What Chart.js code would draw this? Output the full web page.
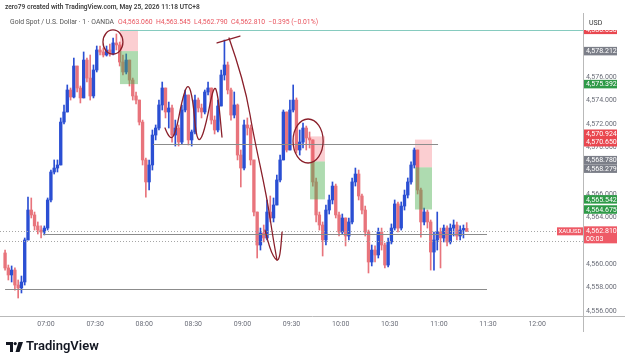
<!DOCTYPE html>
<html>
<head>
<meta charset="utf-8">
<script src="https://cdn.jsdelivr.net/npm/chart.js@4.4.1/dist/chart.umd.min.js"></script>
<style>
  html, body { margin: 0; padding: 0; background: #fff; }
  canvas { display: block; }
</style>
</head>
<body>
<canvas id="chart" width="625" height="362"></canvas>
<script>
// XAUUSD candles, 2-minute steps from 06:35 (time in minutes since midnight)
const startMinute = 395;
const stepMinutes = 2;
const firstOpen = 4560.96;

const closes = [
  4559.68, 4559.08, 4559.50, 4558.22, 4557.97, 4558.48, 4562.07, 4564.63, 4564.21, 4563.27,
  4562.92, 4562.75, 4563.09, 4565.49, 4567.88, 4568.22, 4568.48, 4572.15, 4573.01, 4574.89,
  4574.29, 4576.94, 4575.06, 4574.21, 4577.45, 4575.91, 4574.38, 4576.60, 4578.31, 4578.14,
  4577.88, 4578.31, 4577.97, 4578.91, 4578.74, 4577.28, 4576.43, 4577.45, 4575.74, 4574.38,
  4574.03, 4572.15, 4568.91, 4567.03, 4568.48, 4571.04, 4571.64, 4573.61, 4575.06, 4573.01,
  4573.35, 4571.04, 4571.64, 4570.44, 4573.18, 4574.46, 4570.62, 4571.30, 4574.03, 4573.35,
  4573.01, 4574.72, 4575.06, 4572.32, 4571.47, 4573.52, 4576.17, 4577.03, 4574.89, 4572.75,
  4573.61, 4569.33, 4568.22, 4571.90, 4571.64, 4568.91, 4564.46, 4561.64, 4562.67, 4562.24,
  4564.46, 4563.95, 4565.06, 4567.20, 4568.91, 4573.01, 4569.76, 4573.18, 4574.03, 4569.76,
  4570.44, 4571.64, 4570.79, 4570.62, 4567.03, 4564.21, 4563.35, 4562.07, 4564.63, 4565.49,
  4566.68, 4564.21, 4562.75, 4563.95, 4562.41, 4563.61, 4567.03, 4567.71, 4565.83, 4564.63,
  4562.75, 4560.19, 4561.21, 4560.79, 4562.75, 4561.64, 4559.93, 4561.90, 4563.09, 4565.15,
  4563.09, 4564.97, 4565.91, 4567.03, 4568.48, 4569.76, 4566.34, 4563.61, 4564.46, 4563.61,
  4561.04, 4562.07, 4562.75, 4562.24, 4563.09, 4561.90, 4563.09, 4563.35, 4562.41, 4562.92,
  4563.06, 4562.81
];
const highs = [
  4561.21, 4559.93, 4559.85, 4559.68, 4558.65, 4558.99, 4562.24, 4565.74, 4565.66, 4564.46,
  4563.61, 4563.27, 4563.27, 4565.66, 4568.05, 4568.91, 4568.91, 4572.50, 4573.61, 4575.32,
  4575.06, 4577.62, 4576.94, 4575.23, 4578.14, 4577.62, 4577.88, 4577.03, 4578.65, 4578.65,
  4578.48, 4578.65, 4578.82, 4579.33, 4579.68, 4578.99, 4577.88, 4577.97, 4577.45, 4575.91,
  4574.72, 4574.03, 4572.32, 4569.08, 4568.91, 4571.47, 4571.90, 4574.03, 4575.57, 4575.06,
  4573.86, 4573.61, 4572.32, 4571.90, 4573.61, 4574.89, 4574.46, 4571.47, 4574.46, 4574.21,
  4573.69, 4574.89, 4575.57, 4575.06, 4572.67, 4574.03, 4576.60, 4579.16, 4577.28, 4575.06,
  4574.72, 4573.69, 4569.76, 4572.32, 4572.50, 4571.90, 4568.91, 4564.46, 4563.09, 4563.35,
  4565.49, 4565.83, 4565.66, 4567.62, 4569.33, 4573.18, 4573.01, 4574.03, 4575.32, 4574.21,
  4571.47, 4572.07, 4571.81, 4571.30, 4570.62, 4567.37, 4564.46, 4563.61, 4565.06, 4565.91,
  4567.03, 4566.85, 4564.46, 4564.29, 4563.95, 4563.95, 4567.37, 4568.22, 4568.05, 4566.00,
  4564.97, 4562.92, 4561.64, 4561.56, 4563.09, 4563.09, 4561.81, 4562.24, 4563.44, 4565.49,
  4565.32, 4565.32, 4566.34, 4567.37, 4568.74, 4569.93, 4569.76, 4566.51, 4564.80, 4564.63,
  4563.78, 4562.75, 4564.46, 4563.09, 4563.35, 4563.27, 4563.44, 4563.78, 4563.61, 4563.27,
  4563.35, 4563.55
];
const lows = [
  4559.50, 4558.65, 4558.48, 4557.79, 4557.11, 4557.54, 4558.22, 4562.07, 4563.95, 4562.92,
  4562.58, 4562.24, 4562.50, 4562.92, 4565.32, 4567.71, 4567.88, 4568.48, 4571.98, 4573.18,
  4574.03, 4574.21, 4574.72, 4573.78, 4574.21, 4575.57, 4574.03, 4574.21, 4576.43, 4577.88,
  4577.71, 4577.79, 4577.79, 4577.88, 4578.31, 4576.94, 4576.17, 4576.26, 4575.23, 4574.03,
  4573.69, 4571.90, 4568.48, 4565.74, 4566.34, 4568.05, 4570.62, 4571.47, 4573.18, 4572.50,
  4571.64, 4570.44, 4570.10, 4570.10, 4570.27, 4573.01, 4570.19, 4570.10, 4571.13, 4573.01,
  4572.50, 4572.84, 4574.46, 4571.98, 4571.13, 4571.30, 4573.52, 4575.74, 4574.55, 4572.32,
  4572.50, 4568.91, 4566.60, 4568.05, 4571.04, 4568.48, 4564.12, 4560.53, 4561.21, 4561.90,
  4562.07, 4563.61, 4563.61, 4565.06, 4567.03, 4568.91, 4569.59, 4569.76, 4573.01, 4569.50,
  4569.33, 4569.93, 4569.76, 4569.93, 4566.68, 4563.61, 4562.92, 4560.70, 4561.64, 4564.29,
  4565.15, 4563.95, 4562.41, 4562.58, 4561.56, 4562.07, 4563.44, 4566.68, 4565.49, 4564.29,
  4562.41, 4559.25, 4559.85, 4560.19, 4560.53, 4561.21, 4559.68, 4559.76, 4561.73, 4562.92,
  4562.75, 4562.92, 4564.63, 4565.66, 4566.85, 4568.22, 4566.00, 4562.32, 4563.35, 4563.09,
  4559.50, 4559.50, 4561.21, 4559.68, 4561.90, 4561.56, 4561.73, 4562.41, 4562.07, 4562.07,
  4562.24, 4562.79
];

const timeTicks = [420, 450, 480, 510, 540, 570, 600, 630, 660, 690, 720];
const priceTicks = [4556, 4558, 4560, 4564, 4566, 4570, 4572, 4574, 4576];

// position tools: start/end minute, stop, entry, target
const boxStart = [465.2, 581.3, 645.4];
const boxEnd = [476.2, 590.4, 655.8];
const boxStop = [4580.03, 4570.924, 4570.650];
const boxEntry = [4578.212, 4568.780, 4568.279];
const boxTarget = [4575.392, 4565.542, 4564.675];

// horizontal levels
const levelPrice = [4570.27, 4562.55, 4557.85];
const levelFrom = [485.4, 418.2, 395.0];
const levelTo = [659.5, 689.4, 689.4];
const lastPrice = 4562.81;
const lowerDotted = 4561.98;
const topRay = { from: 465.2, price: 4580.03 };

// hand drawn marks (minute, price)
const waveMark = [[492.7, 4571.64], [495.8, 4570.53], [499.4, 4571.30], [503.1, 4574.03], [506.8, 4575.57],
  [509.8, 4574.03], [511.6, 4571.04], [514.1, 4570.44], [517.7, 4571.90], [522.6, 4575.40],
  [525.1, 4574.46], [527.5, 4570.87]];
const capMark = [[524.5, 4578.91], [538.5, 4579.50]];
const dropMark = [[531.8, 4579.33], [536.1, 4577.62], [542.8, 4574.29], [546.4, 4571.30],
  [555.0, 4565.66], [558.7, 4562.24], [561.1, 4560.36]];
const hookMark = [[553.8, 4562.92], [556.8, 4561.21], [561.1, 4560.19], [563.0, 4560.70], [564.2, 4562.75]];
const circleMarks = [
  { t: 460.9, p: 4578.99, rt: 6.1, rp: 1.03 },
  { t: 580.1, p: 4570.53, rt: 9.2, rp: 1.88 }
];

const UP = '#2b4fd3';
const DOWN = '#e8747c';
const RED = '#e9474f';
const GREEN = '#2f9a48';
const GRAY = '#7b7e88';
const INK = '#8a1f2a';
const FONT = "Roboto, 'Liberation Sans', sans-serif";

const times = closes.map((_, i) => startMinute + i * stepMinutes);
const opens = closes.map((_, i) => i === 0 ? firstOpen : closes[i - 1]);
const bodyData = times.map((t, i) => ({ x: t, y: [opens[i], closes[i]] }));
const wickData = times.map((t, i) => ({
  x: t,
  y: [Math.min(lows[i], opens[i], closes[i]), Math.max(highs[i], opens[i], closes[i])]
}));
const candleColor = c => closes[c.dataIndex] >= opens[c.dataIndex] ? UP : DOWN;

const fmt = v => v.toLocaleString('en-US', { minimumFractionDigits: 3, maximumFractionDigits: 3 });
const hhmm = m => String(Math.floor(m / 60)).padStart(2, '0') + ':' + String(m % 60).padStart(2, '0');

function smooth(ctx, pts) {
  ctx.beginPath();
  ctx.moveTo(pts[0][0], pts[0][1]);
  for (let i = 1; i < pts.length - 1; i++) {
    const mx = (pts[i][0] + pts[i + 1][0]) / 2;
    const my = (pts[i][1] + pts[i + 1][1]) / 2;
    ctx.quadraticCurveTo(pts[i][0], pts[i][1], mx, my);
  }
  const last = pts[pts.length - 1];
  ctx.lineTo(last[0], last[1]);
  ctx.stroke();
}

const drawings = {
  id: 'drawings',
  afterDatasetsDraw(chart) {
    const { ctx, chartArea: a, scales: { x, y } } = chart;
    const X = t => x.getPixelForValue(t);
    const Y = p => y.getPixelForValue(p);
    ctx.save();
    ctx.beginPath();
    ctx.rect(a.left, a.top, a.right - a.left, a.bottom - a.top);
    ctx.clip();

    // position boxes
    boxStart.forEach((s, i) => {
      const x0 = X(s), x1 = X(boxEnd[i]);
      ctx.fillStyle = 'rgba(242,80,90,0.28)';
      ctx.fillRect(x0, Y(boxStop[i]), x1 - x0, Y(boxEntry[i]) - Y(boxStop[i]));
      ctx.fillStyle = 'rgba(76,175,80,0.45)';
      ctx.fillRect(x0, Y(boxEntry[i]), x1 - x0, Y(boxTarget[i]) - Y(boxEntry[i]));
    });

    // top ray
    ctx.strokeStyle = '#86cbbf';
    ctx.lineWidth = 1;
    ctx.beginPath();
    ctx.moveTo(X(topRay.from), Math.round(Y(topRay.price)) + 0.5);
    ctx.lineTo(a.right, Math.round(Y(topRay.price)) + 0.5);
    ctx.stroke();

    // dotted price lines
    ctx.setLineDash([1, 2]);
    ctx.strokeStyle = '#a6a6a6';
    [lastPrice, lowerDotted].forEach(p => {
      const yy = Math.round(Y(p)) + 0.5;
      ctx.beginPath();
      ctx.moveTo(a.left, yy);
      ctx.lineTo(a.right, yy);
      ctx.stroke();
    });
    ctx.setLineDash([]);

    // horizontal levels
    ctx.strokeStyle = '#8c8c8c';
    levelPrice.forEach((p, i) => {
      const yy = Math.round(Y(p)) + 0.5;
      ctx.beginPath();
      ctx.moveTo(X(levelFrom[i]), yy);
      ctx.lineTo(X(levelTo[i]), yy);
      ctx.stroke();
    });

    // hand drawn marks
    ctx.strokeStyle = INK;
    ctx.lineWidth = 1.3;
    ctx.lineCap = 'round';
    [waveMark, capMark, dropMark, hookMark].forEach(m => smooth(ctx, m.map(([t, p]) => [X(t), Y(p)])));
    circleMarks.forEach(c => {
      ctx.beginPath();
      ctx.ellipse(X(c.t), Y(c.p), X(c.t + c.rt) - X(c.t), Y(c.p) - Y(c.p + c.rp), 0, 0, Math.PI * 2);
      ctx.stroke();
    });
    ctx.restore();
  },
  afterDraw(chart) {
    const { ctx, chartArea: a, scales: { y } } = chart;
    const Y = p => y.getPixelForValue(p);
    ctx.save();

    // axis separators
    ctx.strokeStyle = '#b9b9b9';
    ctx.lineWidth = 1;
    ctx.beginPath();
    ctx.moveTo(a.right + 0.5, 13);
    ctx.lineTo(a.right + 0.5, 332);
    ctx.moveTo(0, a.bottom + 0.5);
    ctx.lineTo(625, a.bottom + 0.5);
    ctx.stroke();

    // XAUUSD tag on the pane
    const ly = Y(lastPrice);
    ctx.fillStyle = '#ee5a66';
    ctx.fillRect(a.right - 26, ly - 4, 26, 8);
    ctx.font = '6px ' + FONT;
    ctx.fillStyle = '#fff';
    ctx.textAlign = 'center';
    ctx.textBaseline = 'middle';
    ctx.fillText('XAUUSD', a.right - 13, ly + 0.5);

    // price scale labels for the position tools
    const labels = [];
    boxStart.forEach((_, i) => {
      labels.push({ v: boxStop[i], c: RED }, { v: boxEntry[i], c: GRAY }, { v: boxTarget[i], c: GREEN });
    });
    labels.forEach(l => { l.y = Y(l.v); });
    labels.sort((p, q) => p.y - q.y);
    const h = 8.5;
    for (let pass = 0; pass < 4; pass++) {
      for (let k = 0; k < labels.length - 1; k++) {
        if (labels[k + 1].y - labels[k].y < h) {
          const mid = (labels[k].y + labels[k + 1].y) / 2;
          labels[k].y = mid - h / 2;
          labels[k + 1].y = mid + h / 2;
        }
      }
    }
    ctx.font = '7px ' + FONT;
    ctx.textAlign = 'left';
    labels.forEach(l => {
      ctx.fillStyle = l.c;
      ctx.fillRect(a.right + 1, l.y - h / 2, 33, h);
      ctx.fillStyle = '#fff';
      ctx.fillText(fmt(l.v), a.right + 3, l.y + 0.5);
    });

    // last price label
    ctx.fillStyle = '#ee5a66';
    ctx.fillRect(a.right + 1, ly - 5, 33, 17);
    ctx.fillStyle = '#fff';
    ctx.fillText(fmt(lastPrice), a.right + 3, ly);
    ctx.fillText('00:03', a.right + 3, ly + 7.5);

    // header band over the price scale
    ctx.fillStyle = '#fff';
    ctx.fillRect(a.right + 1, 13, 625 - a.right, 17);
    ctx.fillStyle = '#333';
    ctx.font = '7px ' + FONT;
    ctx.fillText('USD', a.right + 6, 23);

    // title lines
    ctx.fillStyle = '#fff';
    ctx.fillRect(0, 0, 625, 13);
    ctx.fillStyle = '#3c3c3c';
    ctx.font = '600 6.6px ' + FONT;
    ctx.fillText('zero79 created with TradingView.com, May 25, 2026 11:18 UTC+8', 5, 7);
    ctx.font = '6.8px ' + FONT;
    ctx.fillStyle = '#555';
    const sym = 'Gold Spot / U.S. Dollar \u00b7 1 \u00b7 OANDA';
    ctx.fillText(sym, 10, 22);
    const w = ctx.measureText(sym).width;
    ctx.fillStyle = '#e9545e';
    ctx.fillText('O4,563.060  H4,563.545  L4,562.790  C4,562.810  \u22120.395 (\u22120.01%)', 14 + w, 22);

    // TradingView mark
    ctx.fillStyle = '#131722';
    ctx.fillRect(6, 342, 7, 3);
    ctx.fillRect(10, 342, 3, 10);
    ctx.beginPath();
    ctx.arc(15.2, 343.6, 1.6, 0, Math.PI * 2);
    ctx.fill();
    ctx.beginPath();
    ctx.moveTo(18.5, 342);
    ctx.lineTo(23, 342);
    ctx.lineTo(19.5, 352);
    ctx.lineTo(15.5, 352);
    ctx.closePath();
    ctx.fill();
    ctx.font = '600 13px ' + FONT;
    ctx.textBaseline = 'middle';
    ctx.fillText('TradingView', 26, 347);
    ctx.restore();
  }
};

new Chart(document.getElementById('chart'), {
  type: 'bar',
  data: {
    datasets: [
      {
        label: 'wicks',
        data: wickData,
        backgroundColor: candleColor,
        barThickness: 1,
        grouped: false,
        minBarLength: 1
      },
      {
        label: 'bodies',
        data: bodyData,
        backgroundColor: candleColor,
        barThickness: 2.7,
        grouped: false,
        minBarLength: 1
      }
    ]
  },
  options: {
    responsive: false,
    animation: false,
    layout: { padding: { top: 14, bottom: 30, left: 0, right: 0 } },
    plugins: {
      legend: { display: false },
      tooltip: { enabled: false },
      title: { display: false }
    },
    scales: {
      x: {
        type: 'linear',
        offset: false,
        min: 391.9,
        max: 748.04,
        grid: { display: false, drawTicks: false },
        border: { display: false },
        afterBuildTicks: s => { s.ticks = timeTicks.map(v => ({ value: v })); },
        afterFit: s => { s.height = 16; },
        ticks: {
          autoSkip: false,
          maxRotation: 0,
          padding: 4,
          color: '#6a6d78',
          font: { size: 7, family: FONT },
          callback: v => hhmm(v)
        }
      },
      y: {
        position: 'right',
        min: 4555.573,
        max: 4581.385,
        grid: { display: false, drawTicks: false },
        border: { display: false },
        afterBuildTicks: s => { s.ticks = priceTicks.map(v => ({ value: v })); },
        afterFit: s => { s.width = 42; },
        ticks: {
          padding: 3,
          color: '#6a6d78',
          font: { size: 7, family: FONT },
          callback: v => fmt(v)
        }
      }
    }
  },
  plugins: [drawings]
});
</script>
</body>
</html>
